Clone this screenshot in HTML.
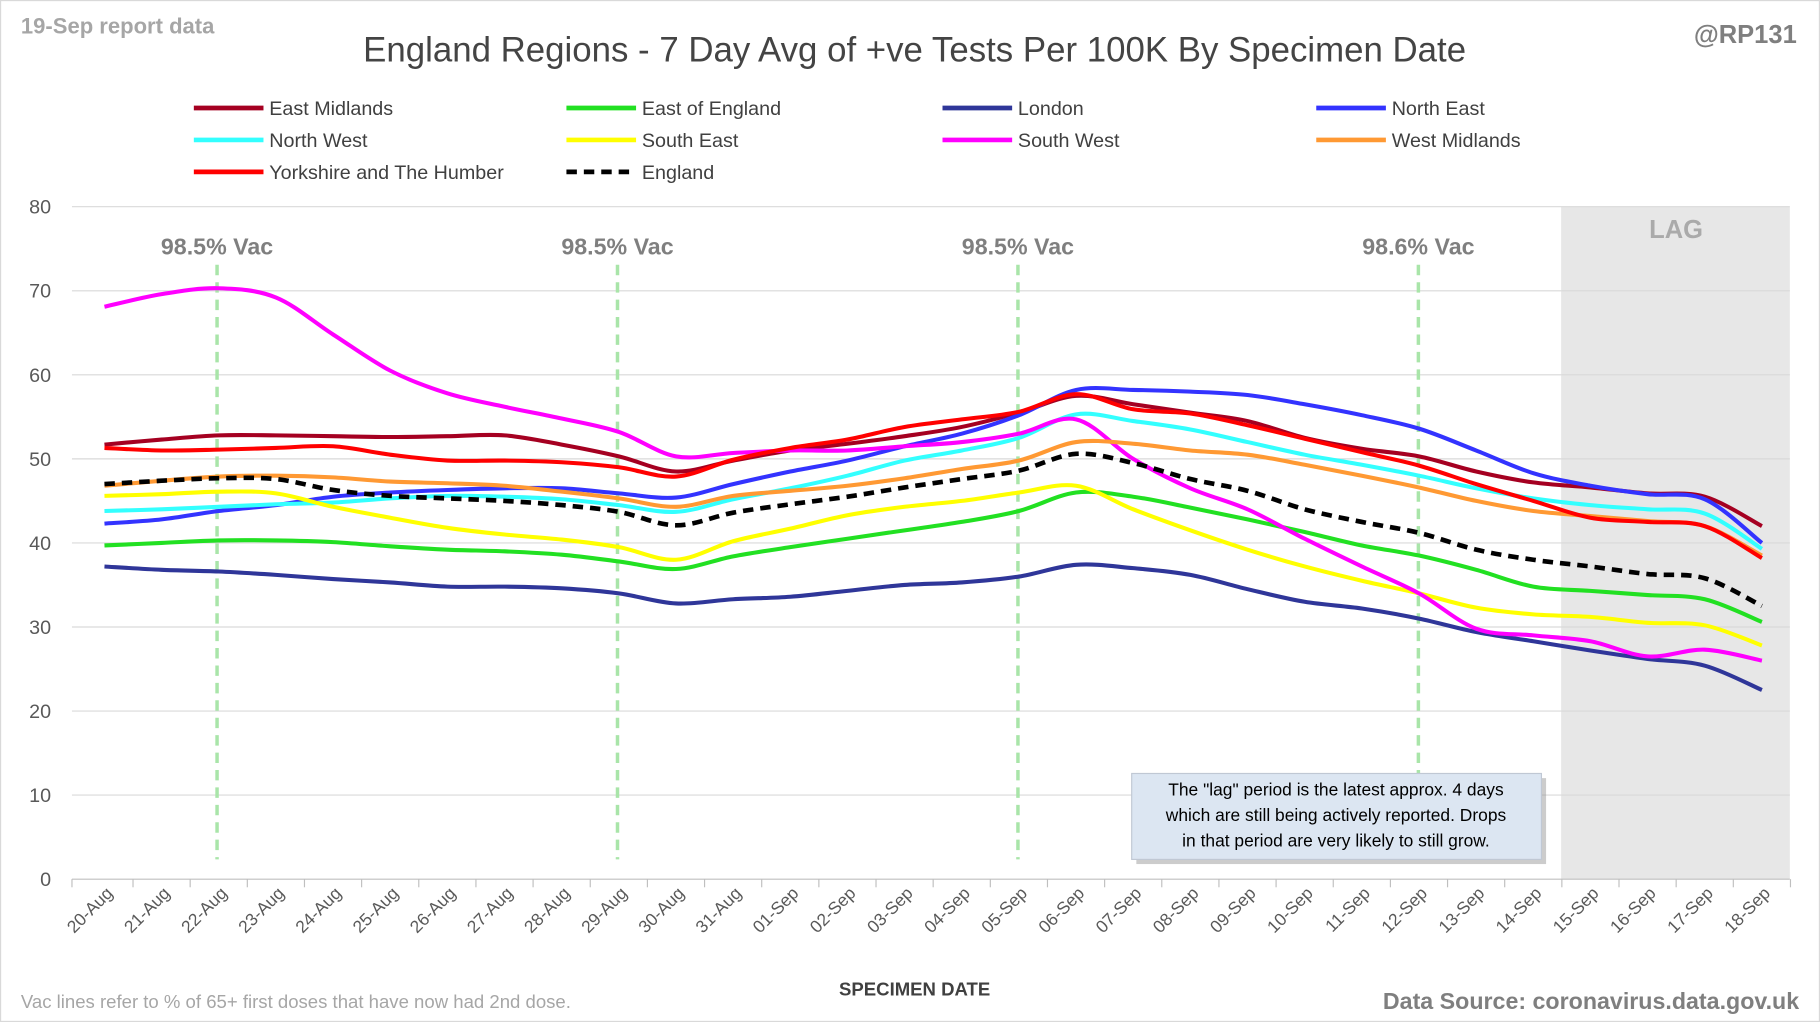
<!DOCTYPE html>
<html><head><meta charset="utf-8"><style>
html,body{margin:0;padding:0;background:#fff}
svg{display:block}
text{font-family:"Liberation Sans",sans-serif}
</style></head><body>
<svg id="s" width="1820" height="1022" viewBox="0 0 1568 880" preserveAspectRatio="none" xmlns="http://www.w3.org/2000/svg">
<rect x="0.5" y="0.5" width="1567" height="879" fill="#fff" stroke="#d9d9d9"/>
<rect x="1345" y="178" width="197" height="579" fill="#e7e7e7"/>
<text x="1444" y="205" font-size="22" font-weight="bold" fill="#aaa" text-anchor="middle">LAG</text>
<g id="grid"></g>
<g id="vac"></g>
<g id="series"></g>
<text x="18" y="29" font-size="19" font-weight="bold" fill="#a6a6a6">19-Sep report data</text>
<text x="788" y="53" font-size="30" fill="#444" text-anchor="middle">England Regions - 7 Day Avg of +ve Tests Per 100K By Specimen Date</text>
<text x="1548" y="37" font-size="22" font-weight="bold" fill="#7f7f7f" text-anchor="end">@RP131</text>
<g id="legend" font-size="17" fill="#404040"></g>
<text x="788" y="857" font-size="16" font-weight="bold" fill="#404040" text-anchor="middle">SPECIMEN DATE</text>
<text x="18" y="868" font-size="16" fill="#a6a6a6">Vac lines refer to % of 65+ first doses that have now had 2nd dose.</text>
<text x="1550" y="869" font-size="20" font-weight="bold" fill="#7f7f7f" text-anchor="end">Data Source: coronavirus.data.gov.uk</text>
<rect x="979" y="670" width="353" height="74" fill="#999" opacity="0.5"/>
<rect x="975" y="666" width="353" height="74" fill="#dce6f2" stroke="#c0c8d4"/>
<text font-size="15" fill="#000" text-anchor="middle"><tspan x="1151" y="685">The "lag" period is the latest approx. 4 days</tspan><tspan x="1151" y="707">which are still being actively reported.  Drops</tspan><tspan x="1151" y="729">in that period are very likely to still grow.</tspan></text>
</svg>
<script>
const NS="http://www.w3.org/2000/svg";
const X=d=>90+d*49.24, Y=v=>757-v*7.2375;
function el(t,a,p,txt){const e=document.createElementNS(NS,t);for(const k in a)e.setAttribute(k,a[k]);if(txt!==undefined)e.textContent=txt;document.getElementById(p).appendChild(e);return e;}
for(let v=0;v<=80;v+=10){el("line",{x1:62,x2:1542,y1:Y(v),y2:Y(v),stroke:v?"#d9d9d9":"#bfbfbf","stroke-width":1},"grid");
el("text",{x:44,y:Y(v)+6,"font-size":17,fill:"#595959","text-anchor":"end"},"grid",v);}
const dates=[];for(let i=20;i<=31;i++)dates.push(i+"-Aug");for(let i=1;i<=18;i++)dates.push((i<10?"0":"")+i+"-Sep");
dates.forEach((d,i)=>{const x=X(i);el("line",{x1:x+24.6,x2:x+24.6,y1:757,y2:764,stroke:"#bfbfbf"},"grid");
el("text",{x:x+8,y:770,"font-size":15,fill:"#595959","text-anchor":"end",transform:`rotate(-45 ${x+8} 770)`},"grid",d);});
el("line",{x1:62-0,x2:62,y1:757,y2:764,stroke:"#bfbfbf"},"grid");
[[187,"98.5% Vac"],[532,"98.5% Vac"],[877,"98.5% Vac"],[1222,"98.6% Vac"]].forEach(([x,t])=>{
el("line",{x1:x,x2:x,y1:228,y2:740,stroke:"#a9e5a9","stroke-width":3,"stroke-dasharray":"9,6"},"vac");
el("text",{x:x,y:219,"font-size":20,"font-weight":"bold",fill:"#7f7f7f","text-anchor":"middle"},"vac",t);});
const S=[
["East Midlands","#a50021",[51.7,52.3,52.8,52.8,52.7,52.6,52.7,52.8,51.7,50.3,48.5,49.8,51.0,51.8,52.7,53.8,55.5,57.5,56.5,55.5,54.5,52.5,51.2,50.3,48.5,47.2,46.6,45.9,45.5,42.0]],
["East of England","#22e022",[39.7,40.0,40.3,40.3,40.1,39.6,39.2,39.0,38.6,37.8,36.9,38.4,39.5,40.5,41.5,42.5,43.8,46.0,45.5,44.2,42.8,41.3,39.7,38.5,36.8,34.8,34.3,33.8,33.3,30.6]],
["London","#2f3699",[37.2,36.8,36.6,36.2,35.7,35.3,34.8,34.8,34.6,34.0,32.8,33.3,33.6,34.3,35.0,35.3,36.0,37.4,37.0,36.2,34.5,33.0,32.2,31.0,29.4,28.3,27.2,26.2,25.4,22.5]],
["North East","#3333ff",[42.3,42.8,43.8,44.5,45.5,46.0,46.3,46.5,46.5,45.9,45.4,47.0,48.5,49.8,51.5,53.0,55.2,58.2,58.2,58.0,57.6,56.5,55.2,53.6,51.0,48.3,46.8,45.8,45.2,40.0]],
["North West","#33ffff",[43.8,44.0,44.3,44.6,44.8,45.3,45.6,45.5,45.2,44.5,43.7,45.2,46.5,48.0,49.8,51.0,52.5,55.3,54.5,53.5,52.0,50.5,49.3,48.0,46.5,45.3,44.5,44.0,43.5,39.3]],
["South East","#ffff00",[45.6,45.8,46.1,45.9,44.3,43.0,41.8,41.0,40.4,39.5,38.0,40.2,41.7,43.3,44.3,45.0,46.0,46.8,44.0,41.5,39.2,37.2,35.5,34.0,32.3,31.5,31.2,30.5,30.2,27.8]],
["South West","#ff00ff",[68.1,69.6,70.3,69.2,64.8,60.5,57.8,56.2,54.8,53.2,50.3,50.7,51.0,51.0,51.5,52.0,53.0,54.7,50.0,46.5,44.0,40.5,37.2,34.0,29.8,29.0,28.3,26.5,27.3,26.0]],
["West Midlands","#ff9933",[46.8,47.4,47.9,48.0,47.8,47.3,47.1,46.8,46.1,45.3,44.3,45.6,46.2,46.8,47.7,48.8,49.8,52.0,51.8,51.0,50.5,49.3,48.0,46.6,45.0,43.8,43.2,42.6,42.0,38.5]],
["Yorkshire and The Humber","#ff0000",[51.3,51.0,51.1,51.3,51.5,50.5,49.8,49.8,49.6,49.0,47.9,49.9,51.3,52.3,53.8,54.7,55.6,57.7,55.9,55.4,54.0,52.4,50.8,49.2,47.0,45.0,43.0,42.5,42.0,38.2]],
["England","#000",[47.0,47.4,47.7,47.6,46.3,45.6,45.3,45.0,44.5,43.7,42.1,43.6,44.6,45.5,46.6,47.6,48.6,50.6,49.5,47.6,46.2,44.0,42.5,41.2,39.2,38.0,37.2,36.3,35.8,32.5],true]];
function path(v){const p=v.map((y,i)=>[X(i),Y(y)]);let d=`M${p[0][0]},${p[0][1]}`;
for(let i=0;i<p.length-1;i++){const p0=p[i-1]||p[i],p1=p[i],p2=p[i+1],p3=p[i+2]||p2;
d+=` C${p1[0]+(p2[0]-p0[0])/6},${p1[1]+(p2[1]-p0[1])/6} ${p2[0]-(p3[0]-p1[0])/6},${p2[1]-(p3[1]-p1[1])/6} ${p2[0]},${p2[1]}`;}return d;}
const cols=[167,488,812,1134];
S.forEach((s,i)=>{const a={d:path(s[2]),fill:"none",stroke:s[1],"stroke-width":s[3]?4:3.5};if(s[3])a["stroke-dasharray"]="9,6";el("path",a,"series");
const c=i%4,r=Math.floor(i/4),x=cols[c],y=93+r*27.5;
const la={x1:x,x2:x+60,y1:y,y2:y,stroke:s[1],"stroke-width":4};if(s[3])la["stroke-dasharray"]="9,6";el("line",la,"legend");
el("text",{x:x+65,y:y+6},"legend",s[0]);});
</script>
</body></html>
